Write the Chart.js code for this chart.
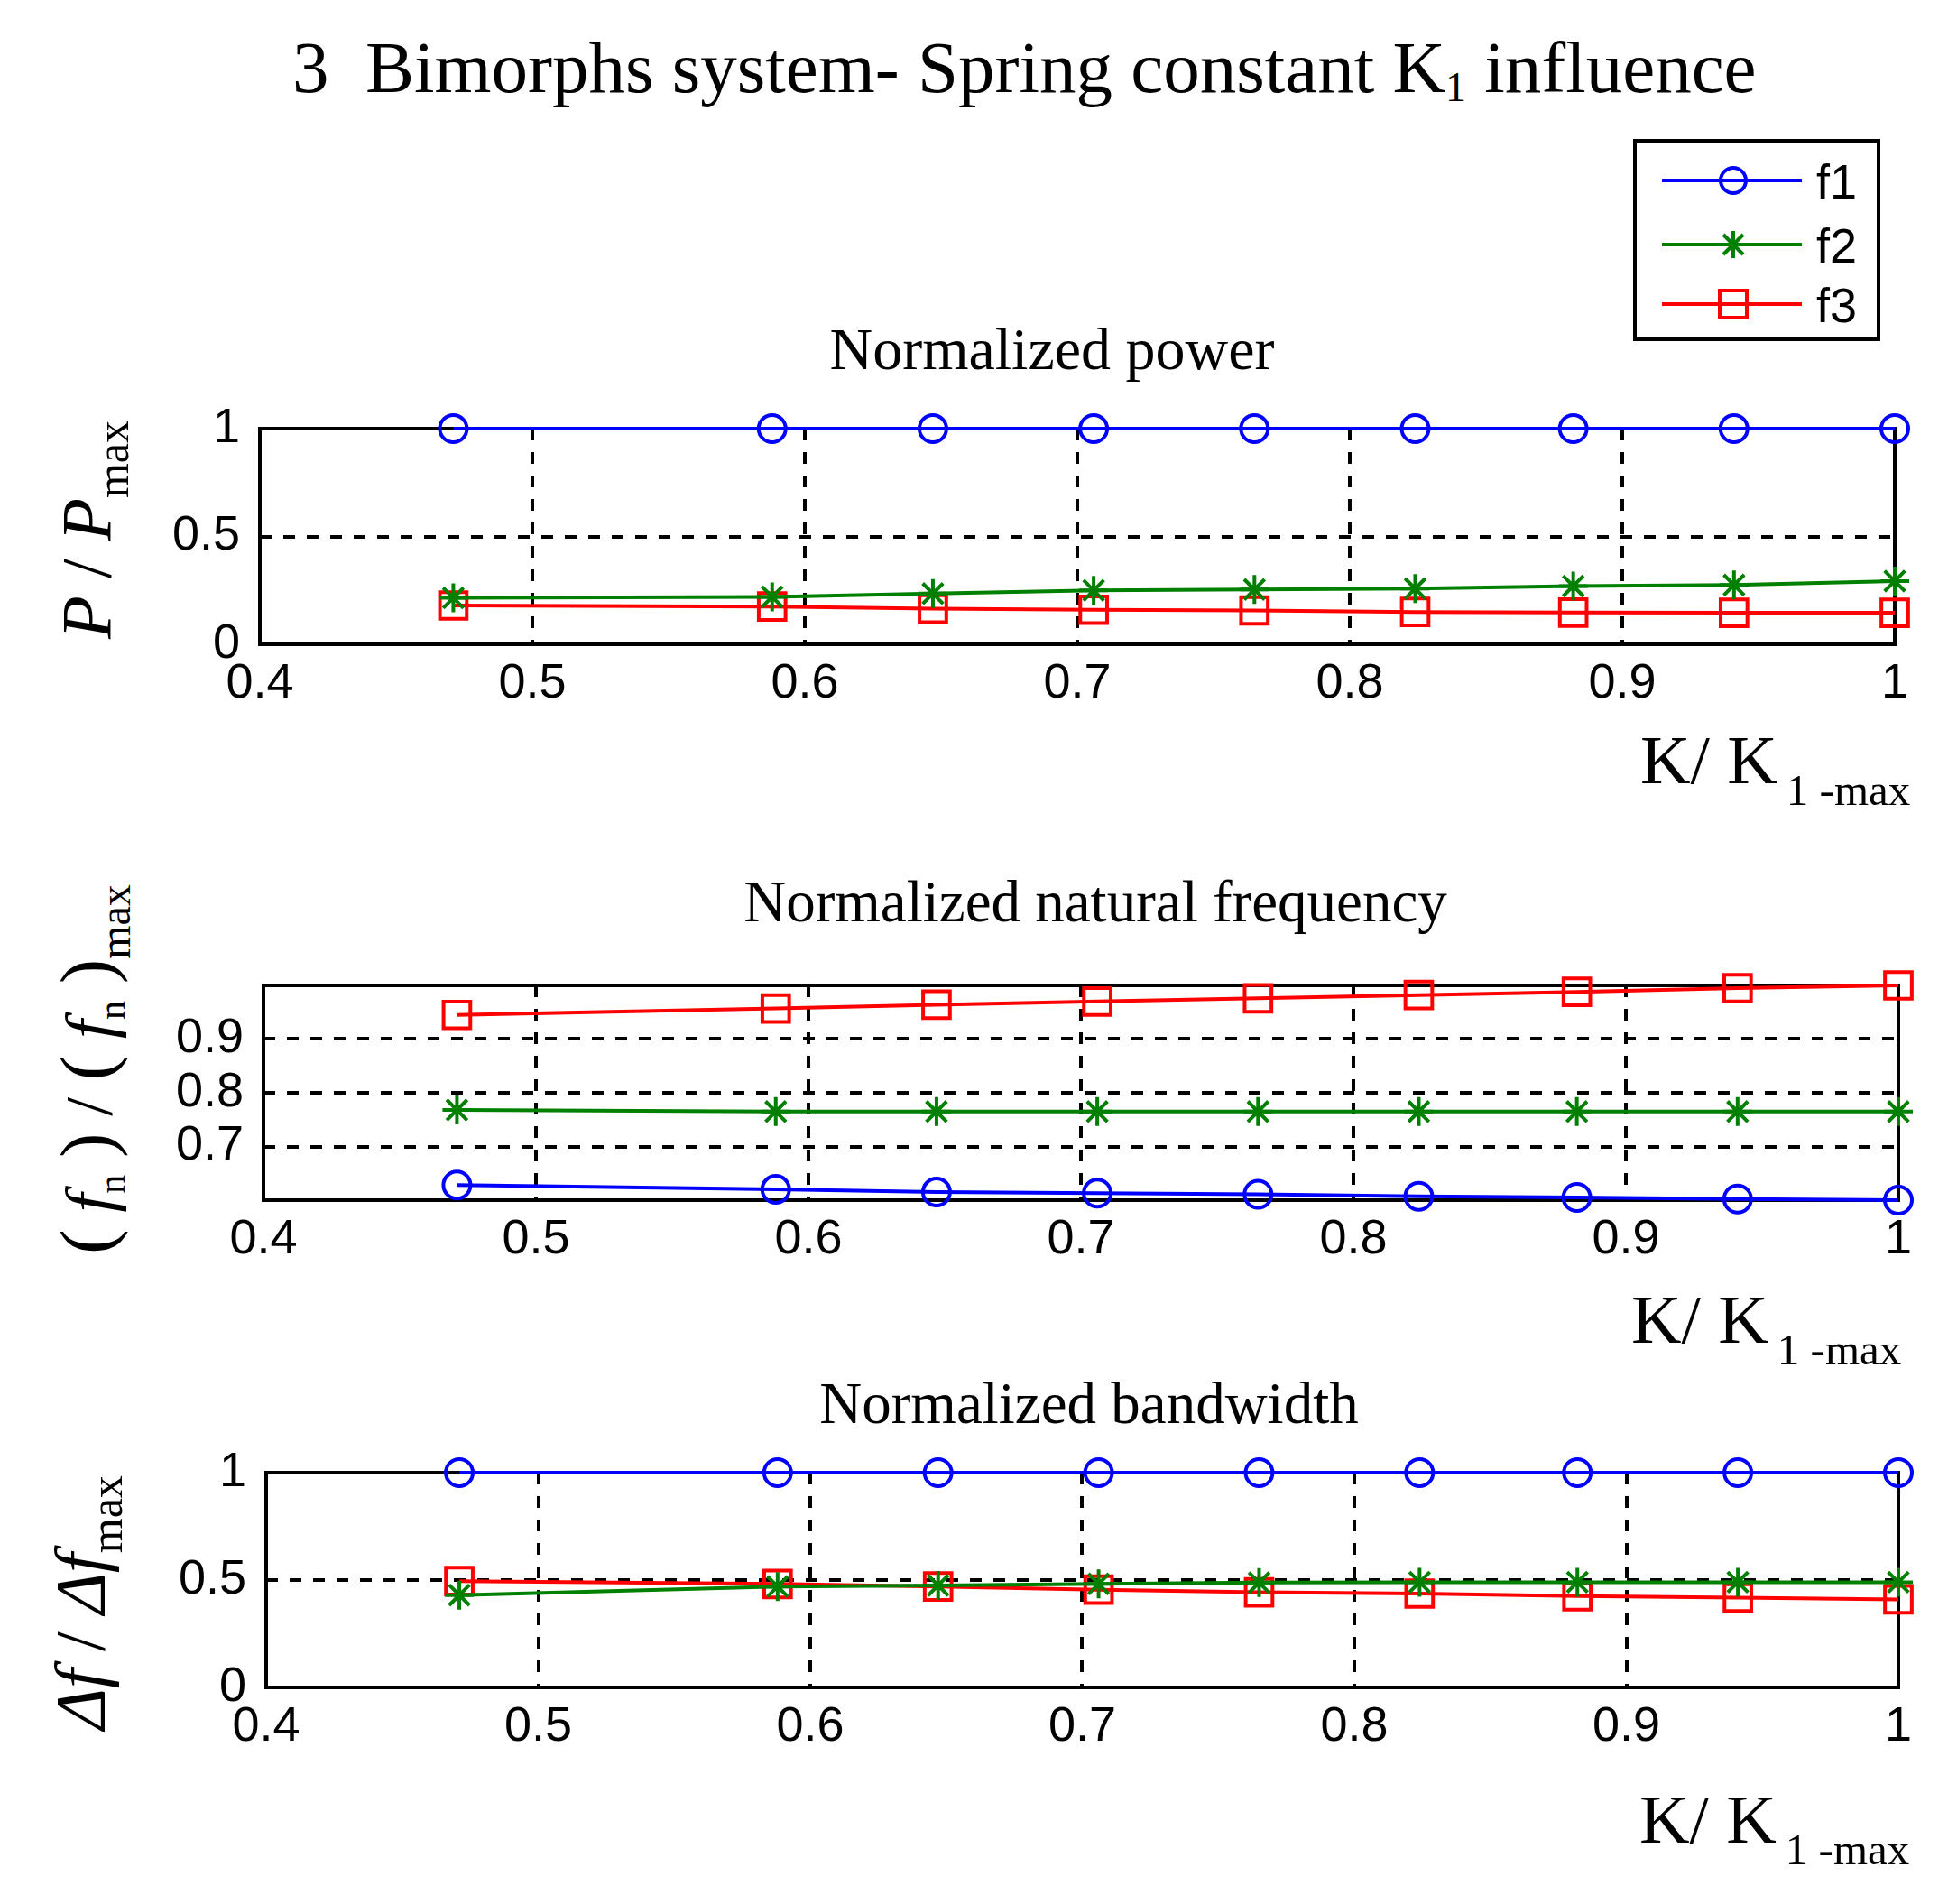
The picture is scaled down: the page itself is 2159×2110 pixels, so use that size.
<!DOCTYPE html>
<html>
<head>
<meta charset="utf-8">
<script src="https://cdn.jsdelivr.net/npm/chart.js@4.4.0/dist/chart.umd.min.js"></script>
<style>
  html, body { margin: 0; padding: 0; background: #fff; }
  body { width: 2159px; height: 2110px; position: relative; overflow: hidden; }
  canvas { position: absolute; left: 0; }
  .serif { position: absolute; font-family: "Liberation Serif", "Times New Roman", serif; color: #000; line-height: 1; white-space: nowrap; }
  .ctr { transform: translateX(-50%); }
  .ylab { transform: translate(-50%, -50%) rotate(-90deg); }
  sub { position: relative; vertical-align: baseline; line-height: 0; font-style: normal; }
  .paren { font-size: 1.1em; }
</style>
</head>
<body>

<div class="serif" style="left:324px;top:35px;font-size:81px">3&nbsp; Bimorphs system- Spring constant K<sub style="font-size:46px;top:10px">1</sub> influence</div>

<svg style="position:absolute;left:0;top:0" width="2159" height="420">
  <rect x="1812" y="156" width="270" height="220" fill="#fff" stroke="#000" stroke-width="4"/>
  <line x1="1842" y1="200" x2="1997" y2="200" stroke="#0000ff" stroke-width="4"/>
  <circle cx="1921" cy="200" r="14" fill="none" stroke="#0000ff" stroke-width="4"/>
  <line x1="1842" y1="271" x2="1997" y2="271" stroke="#008000" stroke-width="4"/>
  <g stroke="#008000" stroke-width="4">
    <line x1="1921" y1="256" x2="1921" y2="286"/>
    <line x1="1906" y1="271" x2="1936" y2="271"/>
    <line x1="1910" y1="260" x2="1932" y2="282"/>
    <line x1="1910" y1="282" x2="1932" y2="260"/>
  </g>
  <line x1="1842" y1="337" x2="1997" y2="337" stroke="#ff0000" stroke-width="4"/>
  <rect x="1906" y="322" width="30" height="30" fill="none" stroke="#ff0000" stroke-width="4"/>
  <g font-family="Liberation Sans, Arial, sans-serif" font-size="54" fill="#000">
    <text x="2013" y="220">f1</text>
    <text x="2013" y="291">f2</text>
    <text x="2013" y="357">f3</text>
  </g>
</svg>

<div class="serif ctr" style="left:1166px;top:354px;font-size:66px">Normalized power</div>
<div class="serif ctr" style="left:1214px;top:967px;font-size:65px">Normalized natural frequency</div>
<div class="serif ctr" style="left:1207px;top:1523px;font-size:65px">Normalized bandwidth</div>

<div class="serif" style="left:1818px;top:804px;font-size:77px">K/ K<sub style="font-size:49px;top:24px;margin-left:10px">1 -max</sub></div>
<div class="serif" style="left:1808px;top:1424px;font-size:77px">K/ K<sub style="font-size:49px;top:24px;margin-left:10px">1 -max</sub></div>
<div class="serif" style="left:1817px;top:1978px;font-size:77px">K/ K<sub style="font-size:49px;top:24px;margin-left:10px">1 -max</sub></div>

<div class="serif ylab" style="left:96px;top:587px;font-size:78px"><i>P</i> / <i>P</i><sub style="font-size:50px;top:20px">max</sub></div>
<div class="serif ylab" style="left:96px;top:1185px;font-size:75px"><span class="paren">(</span> <i>f</i><sub style="font-size:42px;top:14px">n</sub> <span class="paren">)</span> / <span class="paren">(</span> <i>f</i><sub style="font-size:42px;top:14px">n</sub> <span class="paren">)</span><sub style="font-size:48px;top:20px">max</sub></div>
<div class="serif ylab" style="left:89px;top:1776px;font-size:78px"><i>Δf</i> / <i>Δf</i><sub style="font-size:50px;top:20px">max</sub></div>

<canvas id="powerChart"></canvas>
<canvas id="freqChart"></canvas>
<canvas id="bandChart"></canvas>

<script>
// K / K1-max at each computed point
const kRatio = [0.471, 0.588, 0.647, 0.706, 0.765, 0.824, 0.882, 0.941, 1.0];

// Normalized power
const powerF1 = [1, 1, 1, 1, 1, 1, 1, 1, 1];
const powerF2 = [0.215, 0.22, 0.235, 0.25, 0.254, 0.258, 0.27, 0.275, 0.293];
const powerF3 = [0.18, 0.175, 0.165, 0.16, 0.157, 0.15, 0.147, 0.146, 0.146];

// Normalized natural frequency
const freqF1 = [0.628, 0.62, 0.615, 0.613, 0.611, 0.607, 0.605, 0.602, 0.6];
const freqF2 = [0.768, 0.765, 0.765, 0.765, 0.765, 0.765, 0.765, 0.765, 0.765];
const freqF3 = [0.945, 0.957, 0.964, 0.97, 0.976, 0.982, 0.988, 0.995, 1.0];

// Normalized bandwidth
const bandF1 = [1, 1, 1, 1, 1, 1, 1, 1, 1];
const bandF2 = [0.43, 0.47, 0.475, 0.482, 0.488, 0.49, 0.49, 0.49, 0.49];
const bandF3 = [0.495, 0.482, 0.47, 0.455, 0.443, 0.437, 0.425, 0.418, 0.41];

// tick labels
const kTicks = [0.4, 0.5, 0.6, 0.7, 0.8, 0.9, 1];
const powerTicks = [0, 0.5, 1];
const freqTicks = [0.7, 0.8, 0.9];
const bandTicks = [0, 0.5, 1];

const tickFont = { family: "'Liberation Sans', Arial, sans-serif", size: 54 };
const TOP_PAD = 60;
const X_AXIS_H = 70;

const axesBox = {
    id: 'axesBox',
    beforeDatasetsDraw(chart) {
        const { ctx, chartArea: a } = chart;
        ctx.save();
        ctx.strokeStyle = '#000';
        ctx.lineWidth = 4;
        ctx.strokeRect(a.left, a.top, a.right - a.left, a.bottom - a.top);
        ctx.restore();
    }
};

function series(label, ys, color, style, radius) {
    return {
        label: label,
        data: kRatio.map((k, i) => ({ x: k, y: ys[i] })),
        borderColor: color,
        borderWidth: 4,
        pointStyle: style,
        pointRadius: radius,
        pointHoverRadius: radius,
        pointBorderColor: color,
        pointBackgroundColor: 'rgba(0,0,0,0)',
        pointBorderWidth: 4,
        tension: 0,
        fill: false,
        clip: false
    };
}

function hideEdges(min, max) {
    return (c) => {
        const v = c.tick ? c.tick.value : NaN;
        return (Math.abs(v - min) < 1e-6 || Math.abs(v - max) < 1e-6) ? 'rgba(0,0,0,0)' : '#000';
    };
}

function makePlot(id, box, yMin, yMax, yTicks, f1, f2, f3) {
    const canvas = document.getElementById(id);
    canvas.width = 2159;
    canvas.height = box.bottom - box.top + TOP_PAD + X_AXIS_H;
    canvas.style.top = (box.top - TOP_PAD) + 'px';

    return new Chart(canvas, {
        type: 'line',
        data: {
            datasets: [
                series('f1', f1, '#0000ff', 'circle', 15),
                series('f2', f2, '#008000', 'star', 16),
                series('f3', f3, '#ff0000', 'rect', 21)
            ]
        },
        options: {
            responsive: false,
            animation: false,
            devicePixelRatio: 1,
            events: [],
            layout: { padding: { top: TOP_PAD, right: 2159 - box.right, left: 0, bottom: 0 } },
            plugins: { legend: { display: false }, tooltip: { enabled: false } },
            scales: {
                x: {
                    type: 'linear',
                    min: 0.4,
                    max: 1,
                    afterBuildTicks: s => { s.ticks = kTicks.map(v => ({ value: v })); },
                    afterFit: s => { s.height = X_AXIS_H; },
                    ticks: { font: tickFont, color: '#000', padding: 12, maxRotation: 0, autoSkip: false, callback: v => String(v) },
                    grid: { color: hideEdges(0.4, 1), lineWidth: 4, drawTicks: false },
                    border: { display: false, dash: [13, 13] }
                },
                y: {
                    type: 'linear',
                    min: yMin,
                    max: yMax,
                    afterBuildTicks: s => { s.ticks = yTicks.map(v => ({ value: v })); },
                    afterFit: s => { s.width = box.left; },
                    ticks: { font: tickFont, color: '#000', padding: 22, autoSkip: false, callback: v => String(v) },
                    grid: { color: hideEdges(yMin, yMax), lineWidth: 4, drawTicks: false },
                    border: { display: false, dash: [13, 13] }
                }
            }
        },
        plugins: [axesBox]
    });
}

makePlot('powerChart', { left: 288, right: 2100, top: 475, bottom: 714 }, 0, 1, powerTicks, powerF1, powerF2, powerF3);
makePlot('freqChart', { left: 292, right: 2104, top: 1092, bottom: 1330 }, 0.6, 1, freqTicks, freqF1, freqF2, freqF3);
makePlot('bandChart', { left: 295, right: 2104, top: 1632, bottom: 1870 }, 0, 1, bandTicks, bandF1, bandF2, bandF3);
</script>
</body>
</html>
